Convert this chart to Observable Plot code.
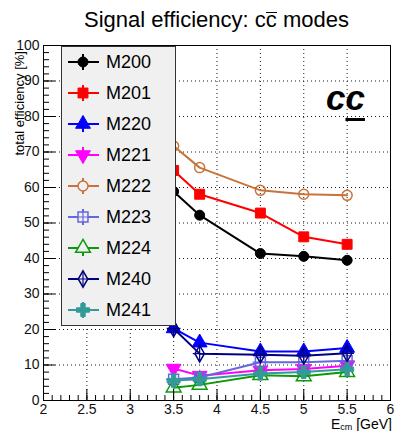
<!DOCTYPE html>
<html><head><meta charset="utf-8">
<script src="https://cdn.jsdelivr.net/npm/d3@7"></script>
<script src="https://cdn.jsdelivr.net/npm/@observablehq/plot@0.6"></script>
<style>
html,body{margin:0;padding:0;background:#fff;}
#wrap{position:relative;width:395px;height:431px;overflow:hidden;font-family:"Liberation Sans",Arial,Helvetica,sans-serif;}
#chart{position:absolute;left:0;top:0;}
#title{position:absolute;left:43px;width:347px;top:6px;text-align:center;font-size:22px;line-height:27px;color:#000;white-space:nowrap;}
#title .bar{display:inline-block;border-top:1.5px solid #000;line-height:14px;}
#ylab{position:absolute;left:12px;top:51px;font-size:13px;line-height:15px;white-space:nowrap;transform-origin:top left;transform:rotate(-90deg) translateX(-100%);color:#000;}
#xlab{position:absolute;right:3px;top:418px;font-size:14px;line-height:12px;white-space:nowrap;color:#000;}
#xlab sub{font-size:9px;vertical-align:-1px;line-height:0;}
#cc{position:absolute;left:326px;top:78px;font-size:35px;line-height:40px;font-weight:bold;font-style:italic;color:#000;white-space:nowrap;}
#cc span{text-decoration:underline;text-decoration-thickness:3px;text-underline-offset:8px;}
#legend{position:absolute;left:61px;top:46px;}
</style></head><body>
<div id="wrap">
  <div id="chart"></div>
  <div id="title">Signal efficiency: c<span class="bar">c</span> modes</div>
  <div id="ylab">total efficiency [%]</div>
  <div id="xlab">E<sub>cm</sub> [GeV]</div>
  <div id="cc">c<span>c</span></div>
  <div id="legend"></div>
</div>
<script>
// ---- data ----
const energies = [3.5, 3.8, 4.5, 5.0, 5.5];
const modes = ["M200", "M201", "M220", "M221", "M222", "M223", "M224", "M240", "M241"];
const effM200 = [58.9, 52.2, 41.4, 40.6, 39.5];
const effM201 = [64.8, 58.1, 52.8, 46.1, 44.0];
const effM220 = [20.3, 16.3, 13.8, 13.8, 14.8];
const effM221 = [9.0, 7.0, 8.5, 8.9, 9.8];
const effM222 = [71.7, 65.6, 59.2, 58.1, 57.8];
const effM223 = [6.0, 6.5, 10.8, 10.8, 11.2];
const effM224 = [3.6, 4.4, 7.1, 6.8, 8.0];
const effM240 = [20.3, 13.2, 12.9, 12.6, 13.3];
const effM241 = [5.6, 6.0, 7.6, 8.0, 8.8];
const xTickLabels = [2, 2.5, 3, 3.5, 4, 4.5, 5, 5.5, 6];
const yTickLabels = [0, 10, 20, 30, 40, 50, 60, 70, 80, 90, 100];

const effs = [effM200, effM201, effM220, effM221, effM222, effM223, effM224, effM240, effM241];

// ---- styles ----
const styles = {
  M200: {color: "#000000", symbol: "circle", filled: true, r: 5},
  M201: {color: "#ff0000", symbol: "square", filled: true, r: 5.6},
  M220: {color: "#0000ff", symbol: "triangle", filled: true, r: 5.5},
  M221: {color: "#ff00ff", symbol: "triangle", filled: true, r: 5.5, rotate: 180},
  M222: {color: "#c8733c", symbol: "circle", filled: false, r: 5},
  M223: {color: "#6666dd", symbol: "square", filled: false, r: 5.6, plus: true},
  M224: {color: "#0a9a0a", symbol: "triangle", filled: false, r: 5.5},
  M240: {color: "#000080", symbol: "diamond", filled: false, r: 5, plus: true},
  M241: {color: "#339999", symbol: "cross", filled: true, r: 5.5}
};

const rows = modes.flatMap((m, i) => energies.map((e, j) => ({mode: m, e, eff: effs[i][j]})));

const marks = [
  Plot.gridX({ticks: xTickLabels.slice(1, -1), stroke: "#000", strokeOpacity: 0.9, strokeDasharray: "1,3"}),
  Plot.gridY({ticks: yTickLabels.slice(1, -1), stroke: "#000", strokeOpacity: 0.9, strokeDasharray: "1,3"})
];
modes.forEach(m => {
  const s = styles[m];
  const d = rows.filter(r => r.mode === m);
  marks.push(Plot.line(d, {x: "e", y: "eff", stroke: s.color, strokeWidth: 2}));
  marks.push(Plot.dot(d, {x: "e", y: "eff", symbol: s.symbol, r: s.r, rotate: s.rotate || 0,
    fill: s.filled ? s.color : "none", stroke: s.color, strokeWidth: s.filled ? 1 : 1.5}));
  if (s.plus) marks.push(Plot.dot(d, {x: "e", y: "eff", symbol: "plus", r: s.r * 0.9, stroke: s.color, strokeWidth: 1.2}));
});

const xMinor = d3.range(20, 61).map(v => v / 10);
const yMinor = d3.range(0, 101, 2);
marks.push(
  Plot.axisX({ticks: xMinor, tickSize: -5, tickFormat: () => "", stroke: "#000"}),
  Plot.axisX({ticks: xTickLabels, tickSize: -11, tickFormat: () => "", stroke: "#000"}),
  Plot.axisX({ticks: xTickLabels, tickSize: 0, tickPadding: 4, fontSize: 14, fill: "#111", tickFormat: d => String(d)}),
  Plot.axisY({ticks: yMinor, tickSize: -6, tickFormat: () => "", stroke: "#000"}),
  Plot.axisY({ticks: yTickLabels, tickSize: -12, tickFormat: () => "", stroke: "#000"}),
  Plot.axisY({ticks: yTickLabels, tickSize: 0, tickPadding: 4, fontSize: 14, fill: "#111", tickFormat: d => String(d)}),
  Plot.frame({stroke: "#000", strokeWidth: 1})
);

const chart = Plot.plot({
  width: 395, height: 431,
  marginTop: 45, marginBottom: 31, marginLeft: 43, marginRight: 5,
  x: {domain: [2, 6], label: null},
  y: {domain: [0, 100], label: null},
  style: {fontFamily: "Liberation Sans, Arial, sans-serif", background: "transparent", overflow: "visible"},
  marks
});
document.getElementById("chart").append(chart);

// ---- legend ----
const lw = 114, rowH = 31, lh = rowH * modes.length;
const lsvg = d3.select("#legend").append("svg").attr("width", lw + 1).attr("height", lh + 1);
lsvg.append("rect").attr("x", 0.5).attr("y", 0.5).attr("width", lw).attr("height", lh)
  .attr("fill", "#f0f0f0").attr("stroke", "#333").attr("stroke-width", 1);
const symMap = {circle: d3.symbolCircle, square: d3.symbolSquare, triangle: d3.symbolTriangle,
  diamond: d3.symbolDiamond, cross: d3.symbolCross, plus: d3.symbolPlus};
modes.forEach((m, i) => {
  const s = styles[m];
  const cy = 16 + i * rowH, cx = 22;
  const g = lsvg.append("g");
  g.append("line").attr("x1", 7).attr("x2", 38).attr("y1", cy).attr("y2", cy).attr("stroke", s.color).attr("stroke-width", 2);
  g.append("line").attr("x1", cx).attr("x2", cx).attr("y1", cy - 8).attr("y2", cy + 8).attr("stroke", s.color).attr("stroke-width", 2);
  g.append("path").attr("d", d3.symbol(symMap[s.symbol], Math.PI * s.r * s.r)())
    .attr("transform", `translate(${cx},${cy}) rotate(${s.rotate || 0})`)
    .attr("fill", s.filled ? s.color : "#f0f0f0").attr("stroke", s.color).attr("stroke-width", s.filled ? 1 : 1.5);
  if (s.plus) g.append("path").attr("d", d3.symbol(d3.symbolPlus, Math.PI * s.r * s.r * 0.8)())
    .attr("transform", `translate(${cx},${cy})`).attr("fill", "none").attr("stroke", s.color).attr("stroke-width", 1.2);
  g.append("text").attr("x", 45).attr("y", cy).attr("dy", "0.36em").attr("font-size", 18)
    .attr("font-family", "Liberation Sans, Arial, sans-serif").attr("fill", "#000").text(m);
});
</script>
</body></html>
